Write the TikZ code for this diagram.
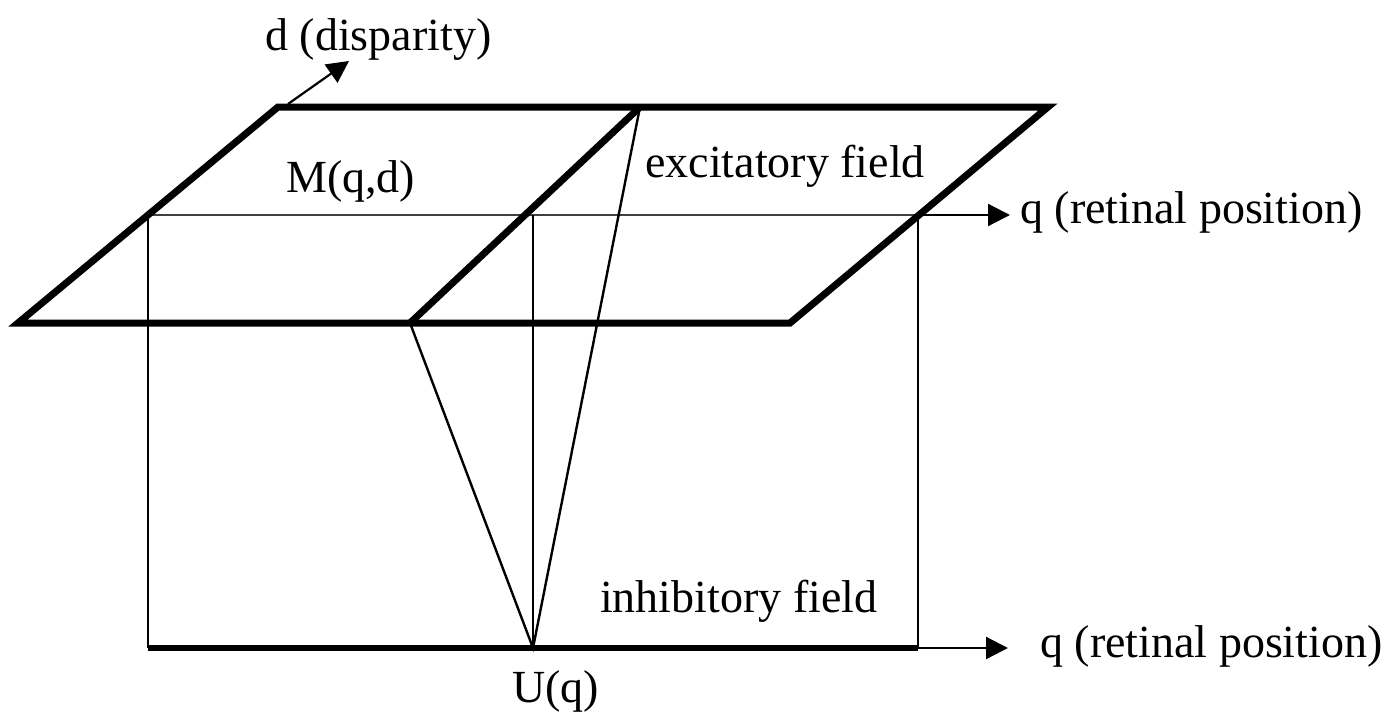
\documentclass[tikz,border=0pt]{standalone}
\usepackage{fontspec}
\setmainfont{Liberation Serif}
\usetikzlibrary{arrows.meta}
\begin{document}
\begin{tikzpicture}[x=1pt,y=-1pt,
  thickline/.style={line width=7pt, line join=miter},
  thinline/.style={line width=2.4pt},
  hairline/.style={line width=1.6pt, black!75},
  axisarrow/.style={line width=2.2pt, -{Triangle[length=22pt,width=22pt]}},
  lbl/.style={anchor=base west, inner sep=0pt, font=\fontsize{46}{50}\selectfont}]
\useasboundingbox (0,0) rectangle (1395,712);
% corners of excitatory field
\coordinate (TL) at (278,107);
\coordinate (TM) at (640,107);
\coordinate (TR) at (1048,107);
\coordinate (BL) at (18,323);
\coordinate (BM) at (410,323);
\coordinate (BR) at (790,323);
% back line
\coordinate (A1) at (148,215);
\coordinate (A2) at (533,215);
\coordinate (A3) at (918,215);
\coordinate (A3e) at (1010,215);
% inhibitory field
\coordinate (B1) at (148,648);
\coordinate (U) at (533,648);
\coordinate (B3) at (918,648);
\coordinate (B3e) at (1008,648);
% disparity arrow
\coordinate (D0) at (288,104);
\coordinate (D1) at (349,61);
% thin lines
\draw[hairline] (A1) -- (A3);
\draw[thinline] (A1) -- (B1);
\draw[thinline] (A2) -- (U);
\draw[thinline] (A3) -- (B3);
\draw[thinline] (BM) -- (U) -- (TM);
% arrows
\draw[axisarrow] (A3) -- (A3e);
\draw[axisarrow] (B3) -- (B3e);
\draw[axisarrow] (D0) -- (D1);
% thick lines
\draw[thickline] (TL) -- (TR) -- (BR) -- (BL) -- cycle;
\draw[thickline] (TM) -- (BM);
\draw[line width=6pt] (B1) -- (B3);
% labels
\node[lbl] (dlab) at (265,50) {d (disparity)};
\node[lbl] (mlab) at (286,192) {M(q,d)};
\node[lbl] (elab) at (645,177) {excitatory field};
\node[lbl] (q1lab) at (1020,223) {q (retinal position)};
\node[lbl] (ilab) at (600,612) {inhibitory field};
\node[lbl] (q2lab) at (1040,657) {q (retinal position)};
\node[lbl] (ulab) at (512,702) {U(q)};
\end{tikzpicture}
\end{document}
